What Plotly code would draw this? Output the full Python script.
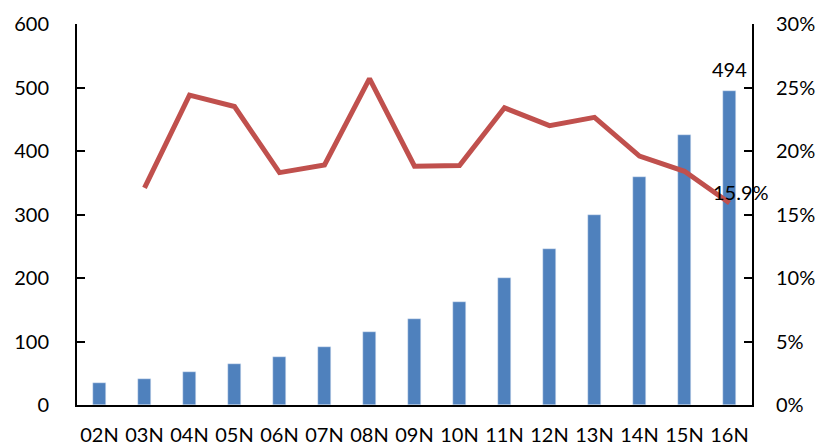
import plotly.graph_objects as go

# Annual totals (bars, left axis) and growth rate (line, right axis)
years = ["02N", "03N", "04N", "05N", "06N", "07N", "08N", "09N",
         "10N", "11N", "12N", "13N", "14N", "15N", "16N"]
totals = [35, 41, 52, 64, 76, 91, 115, 136, 162, 200, 245, 300, 359, 425, 494]
growth = [None, 0.171, 0.244, 0.235, 0.183, 0.189, 0.257, 0.188,
          0.1885, 0.234, 0.220, 0.2265, 0.196, 0.184, 0.159]

bar_color = "#4F81BD"
line_color = "#C0504D"
font_family = "Lato, Carlito, 'Open Sans', sans-serif"

fig = go.Figure()
fig.add_trace(go.Bar(
    x=years, y=totals, marker_color=bar_color, width=0.31,
    yaxis="y", name="total",
))
fig.add_trace(go.Scatter(
    x=years, y=growth, mode="lines", yaxis="y2",
    line=dict(color=line_color, width=5), name="growth",
))

# Labels on the last data points
fig.add_annotation(x=years[-1], y=totals[-1], yref="y", text=str(totals[-1]),
                   showarrow=False, yanchor="bottom", yshift=8,
                   font=dict(size=20, color="black", family=font_family))
fig.add_annotation(x=years[-1], y=growth[-1], yref="y2",
                   text=f"{growth[-1]*100:.1f}%",
                   showarrow=False, xshift=11, yshift=11,
                   font=dict(size=20, color="black", family=font_family))

axis_font = dict(size=20, color="black", family=font_family)
fig.update_layout(
    width=822, height=446,
    margin=dict(l=77, r=70, t=24, b=41, autoexpand=False),
    paper_bgcolor="white", plot_bgcolor="white",
    showlegend=False, bargap=0,
    xaxis=dict(
        type="category", range=[-0.5, 14.5], automargin=False,
        showline=True, linecolor="black", linewidth=2,
        ticks="", tickfont=axis_font, ticklabelstandoff=11,
        showgrid=False, zeroline=False,
    ),
    yaxis=dict(
        range=[0, 600], tickvals=[0, 100, 200, 300, 400, 500, 600],
        automargin=False,
        showline=True, linecolor="black", linewidth=2,
        ticks="inside", ticklen=8, tickcolor="black", tickwidth=2,
        tickfont=axis_font, ticklabelstandoff=22,
        showgrid=False, zeroline=False,
    ),
    yaxis2=dict(
        range=[0, 0.30], tickvals=[0, 0.05, 0.10, 0.15, 0.20, 0.25, 0.30],
        tickformat=".0%", overlaying="y", side="right", automargin=False,
        showline=True, linecolor="black", linewidth=2,
        ticks="inside", ticklen=8, tickcolor="black", tickwidth=2,
        tickfont=axis_font, ticklabelstandoff=18,
        showgrid=False, zeroline=False,
    ),
)

fig.write_html("out.html")
